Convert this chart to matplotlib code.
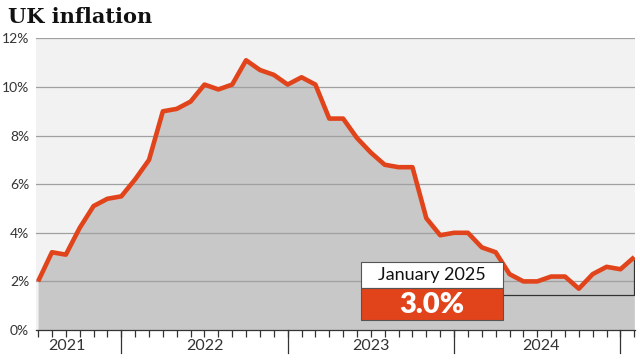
import numpy as np
import matplotlib
matplotlib.use("Agg")
import matplotlib.pyplot as plt
import matplotlib.patches as mpatches

# Monthly CPI inflation, Jul 2021 -> Jan 2025 (as plotted in the reference)
inflation = [2.0, 3.2, 3.1, 4.2, 5.1, 5.4, 5.5, 6.2, 7.0, 9.0,
             9.1, 9.4, 10.1, 9.9, 10.1, 11.1, 10.7, 10.5, 10.1, 10.4,
             10.1, 8.7, 8.7, 7.9, 7.3, 6.8, 6.7, 6.7, 4.6, 3.9,
             4.0, 4.0, 3.4, 3.2, 2.3, 2.0, 2.0, 2.2, 2.2, 1.7,
             2.3, 2.6, 2.5, 3.0]
year_labels = ["2021", "2022", "2023", "2024"]
year_label_pos = [2.1, 12, 24, 36.3]
year_starts = [6, 18, 30, 42]
y_ticks = [0, 2, 4, 6, 8, 10, 12]
latest_label = "January 2025"

RED = "#e1441b"
FILL = "#c8c8c8"
BG = "#f2f2f2"
TXT = "#333333"
FONT = "Lato"

fig = plt.figure(figsize=(6.4, 3.6), dpi=100)
ax = fig.add_axes([36 / 640, 30 / 360, 599 / 640, 291.6 / 360])
ax.set_facecolor(BG)

x = np.arange(len(inflation))
ax.fill_between(x, 0, inflation, color=FILL, lw=0, zorder=1)
ax.plot(x, inflation, color=RED, lw=3.3, zorder=4, solid_joinstyle="round",
        solid_capstyle="butt")

ax.set_xlim(-0.15, len(inflation) - 0.95)
ax.set_ylim(0, 12)

# gridlines
for v in y_ticks[1:]:
    ax.axhline(v, color="#a0a0a0", lw=0.9, zorder=2)
ax.set_yticks(y_ticks)
ax.set_yticklabels([f"{v}%" for v in y_ticks], fontsize=10, color=TXT, family=FONT)
ax.tick_params(axis="y", length=0, pad=5)

# month ticks + longer year ticks
ax.set_xticks(x)
ax.set_xticklabels([])
ax.tick_params(axis="x", which="major", length=5, width=0.9, color=TXT, direction="out")
for xs in year_starts:
    ax.plot([xs, xs], [0, -0.95], color=TXT, lw=0.9, clip_on=False, zorder=5)
for lab, xp in zip(year_labels, year_label_pos):
    ax.text(xp, -0.64, lab, ha="center", va="center", fontsize=11.5, color=TXT,
            family=FONT)

for s in ["top", "right", "left"]:
    ax.spines[s].set_visible(False)
ax.spines["bottom"].set_color(TXT)
ax.spines["bottom"].set_linewidth(0.9)
ax.spines["bottom"].set_zorder(5)

# latest-value callout
last_x = x[-1]
last_v = inflation[-1]
bx0, bx1 = 23.3, 33.5
ax.add_patch(mpatches.Rectangle((bx0, 1.73), bx1 - bx0, 1.07, facecolor="white",
                                edgecolor="#555555", lw=0.8, zorder=6))
ax.add_patch(mpatches.Rectangle((bx0, 0.41), bx1 - bx0, 1.32, facecolor=RED,
                                edgecolor="#555555", lw=0.8, zorder=6))
ax.text((bx0 + bx1) / 2, 2.25, latest_label, ha="center", va="center",
        fontsize=13, color="#111111", family=FONT, zorder=7)
ax.text((bx0 + bx1) / 2, 1.04, f"{last_v:.1f}%", ha="center", va="center",
        fontsize=21, fontweight="heavy", color="white", family=FONT, zorder=7)
ax.plot([bx1, last_x, last_x], [1.44, 1.44, last_v - 0.1], color="#333333",
        lw=0.9, zorder=3)

fig.text(8 / 640, 1 - 17 / 360, "UK inflation", fontsize=15, fontweight="heavy",
         family="DejaVu Serif", color="#111111", va="center", ha="left")

fig.savefig("out.png", dpi=100)
